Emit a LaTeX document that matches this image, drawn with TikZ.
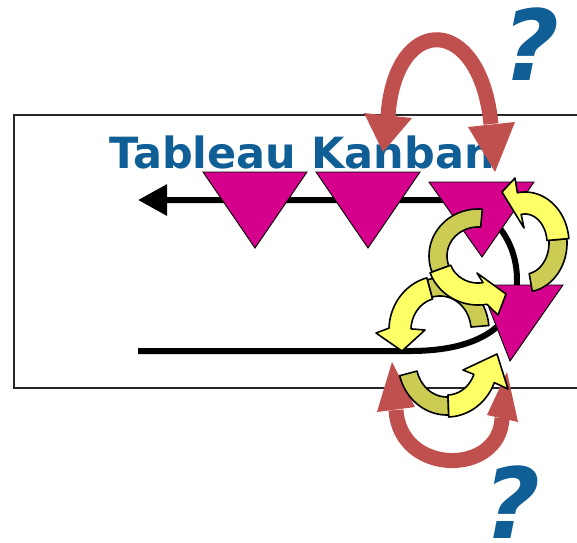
\documentclass[tikz,border=0pt]{standalone}
\usepackage{fontspec}
\setmainfont{DejaVu Sans}
\usetikzlibrary{arrows.meta}
\definecolor{kblue}{RGB}{16,94,150}
\definecolor{kmag}{RGB}{213,0,140}
\definecolor{kred}{RGB}{192,80,77}
\definecolor{yfront}{RGB}{255,255,102}
\definecolor{yback}{RGB}{204,204,85}

% elliptical ribbon arrows: centre, radii, half widths (back, front)
\newcommand\ribbonsetup[6]{\def\rcx{#1}\def\rcy{#2}\def\rrx{#3}\def\rry{#4}\def\rhb{#5}\def\rhf{#6}}
% back (shaded) part between two angles
\newcommand\ribbonback[2]{%
  \filldraw[yarrow,fill=yback]
    plot[domain=#1:#2,samples=31] ({\rcx+(\rrx+\rhb)*cos(\x)},{\rcy+(\rry+\rhb)*sin(\x)})
    -- plot[domain=#2:#1,samples=31] ({\rcx+(\rrx-\rhb)*cos(\x)},{\rcy+(\rry-\rhb)*sin(\x)})
    -- cycle;}
% front (bright) part with its head: start, base angle, outer barb, tip, inner barb
\newcommand\ribbonfront[5]{%
  \filldraw[yarrow,fill=yfront]
    plot[domain=#1:#2,samples=31] ({\rcx+(\rrx+\rhf)*cos(\x)},{\rcy+(\rry+\rhf)*sin(\x)})
    -- (#3) -- (#4) -- (#5)
    -- plot[domain=#2:#1,samples=31] ({\rcx+(\rrx-\rhf)*cos(\x)},{\rcy+(\rry-\rhf)*sin(\x)})
    -- cycle;}

\begin{document}
\begin{tikzpicture}[x=1pt,y=-1pt,
  tri/.style={fill=kmag,draw=black,line width=0.9pt,line join=miter},
  yarrow/.style={draw=black,line width=1.6pt,line join=round},
  redband/.style={draw=kred,line width=15pt},
  flow/.style={draw=black,line width=6pt},
  qmark/.style={text=kblue,font=\fontsize{98}{110}\selectfont\bfseries\itshape,inner sep=0,anchor=base}]

\useasboundingbox (0,0) rectangle (577,542);
\fill[white] (0,0) rectangle (577,542);

% board frame
\draw[line width=1.4pt,draw=black!85] (600,115) -- (14,115) -- (14,388) -- (600,388);

\node[anchor=base west,inner sep=0,text=kblue,font=\fontsize{43}{50}\selectfont\bfseries] (title) at (109,168) {Tableau Kanban};

% flow loop
\coordinate (flowstart) at (138,351);
\coordinate (flowend) at (138,200);
\draw[flow,-{Triangle[length=29pt,width=30pt]}] (flowstart) -- (410,351)
  .. controls (480,351) and (517,325) .. (517,280)
  .. controls (517,235) and (485,200) .. (440,200) -- (flowend);

% red swap arcs
\draw[redband] (388,116) .. controls (395,13) and (480,13) .. (491,124);
\fill[kred] (364,113) -- (412,118) -- (383,152) -- cycle;
\fill[kred] (468,127) -- (515,122) -- (495,172) -- cycle;
\draw[redband] (396,410) .. controls (400,476) and (500,476) .. (502,418);
\fill[kred] (377,412) -- (415,407) -- (392,362) -- cycle;
\fill[kred] (487,415) -- (518,422) -- (507,372) -- cycle;

% kanban cards
\draw[tri] (203,172) -- (307,172) -- (255,248) -- cycle;
\draw[tri] (316,172) -- (420,172) -- (368,248) -- cycle;
\draw[tri] (429,182) -- (534,182) -- (482,257) -- cycle;

% lower-left cycling arrow, back part behind the last card
\ribbonsetup{440}{330}{40}{43}{9}{11}
\ribbonback{-5}{-105}

\draw[tri] (480,285) -- (563,285) -- (510,361) -- cycle;

\ribbonfront{-105}{-178}{376,333}{402,351}{425,330}

% bottom arrow
\ribbonsetup{447}{362}{40}{44}{9}{11}
\ribbonback{165}{88}
\ribbonfront{88}{22}{508,389}{497,354}{463,370}

% upper pair
\ribbonsetup{478}{256}{40}{38}{9}{11}
\ribbonback{-85}{-200}
\ribbonsetup{525}{243}{33}{40}{9}{11}
\ribbonback{80}{-5}
\ribbonsetup{478}{256}{40}{38}{9}{11}
\ribbonfront{-200}{-280}{498,315}{506,294}{477,273}
\ribbonsetup{525}{243}{33}{40}{9}{11}
\ribbonfront{-5}{-100}{515,178}{502,192}{524,228}

% question marks
\node[qmark] (qtop) at (531,80) {?};
\node[qmark] (qbot) at (512,538) {?};
\end{tikzpicture}
\end{document}
